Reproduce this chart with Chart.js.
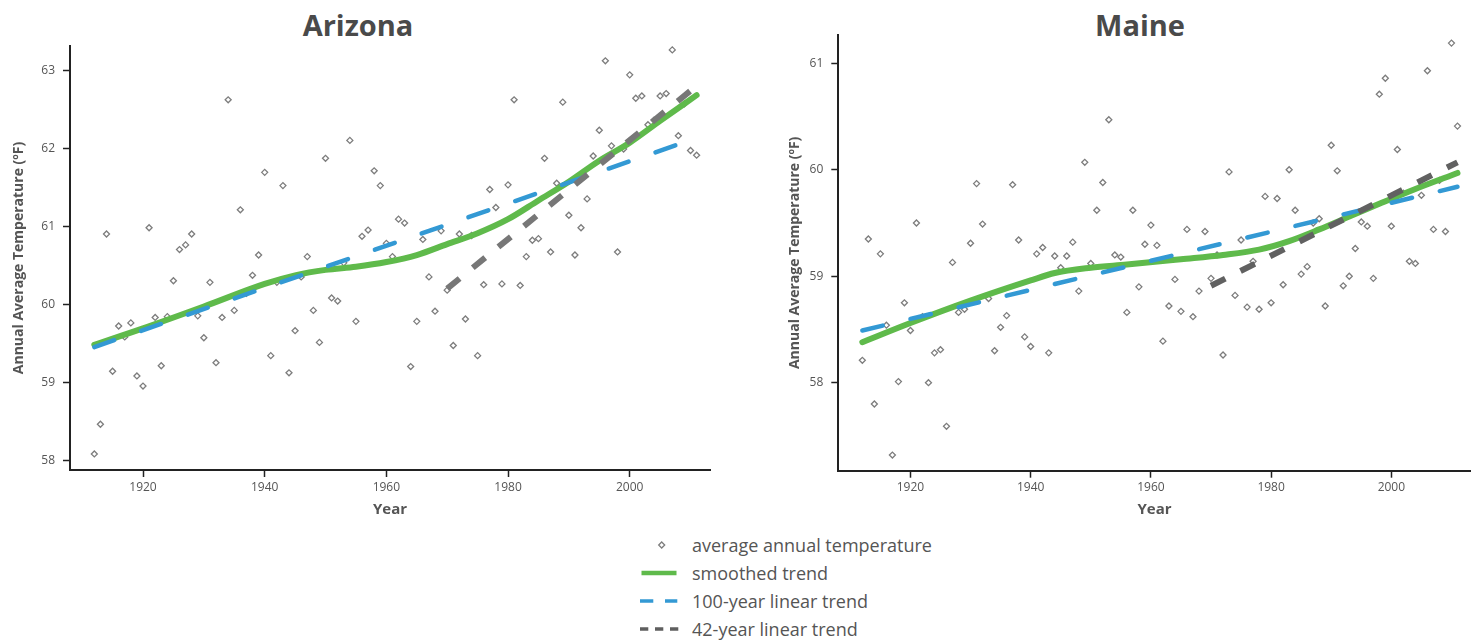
<!DOCTYPE html>
<html>
<head>
<meta charset="utf-8">
<script src="https://cdn.jsdelivr.net/npm/chart.js@4/dist/chart.umd.min.js"></script>
<style>
html,body{margin:0;padding:0;background:#fff;}
body{width:1476px;height:641px;overflow:hidden;position:relative;font-family:"Open Sans",sans-serif;}
canvas{position:absolute;top:0;}
#cAz{left:0;}
#cMe{left:776px;}
.title{position:absolute;top:5px;font-weight:700;font-size:29px;color:#4a4a4a;transform:translateX(-50%);white-space:nowrap;line-height:normal;}
.row{position:absolute;left:636px;height:28px;display:flex;align-items:center;}
.row svg{width:50px;height:28px;flex:none;}
.row span{margin-left:6px;font-size:18px;color:#555;line-height:28px;white-space:nowrap;}
</style>
</head>
<body>
<div class="title" style="left:358px;">Arizona</div>
<div class="title" style="left:1140px;">Maine</div>
<canvas id="cAz" width="716" height="530"></canvas>
<canvas id="cMe" width="700" height="530"></canvas>

<div class="row" style="top:531px;">
  <svg viewBox="0 0 50 28"><polygon points="25.7,11 28.7,14 25.7,17 22.7,14" fill="#fff" stroke="#7d7d7d" stroke-width="1.3"/></svg>
  <span>average annual temperature</span>
</div>
<div class="row" style="top:559px;">
  <svg viewBox="0 0 50 28"><line x1="5.5" y1="14" x2="40.5" y2="14" stroke="#5fba4b" stroke-width="4.5"/></svg>
  <span>smoothed trend</span>
</div>
<div class="row" style="top:587px;">
  <svg viewBox="0 0 50 28"><path d="M4 14H17.3M29 14H41.3" stroke="#3399d4" stroke-width="3.5"/></svg>
  <span>100-year linear trend</span>
</div>
<div class="row" style="top:615px;">
  <svg viewBox="0 0 50 28"><path d="M4 14H12.3M19 14H27.3M34 14H42.3" stroke="#5f5f5f" stroke-width="3.5"/></svg>
  <span>42-year linear trend</span>
</div>

<script>
// ---------- data ----------
const firstYear = 1912;

const azTemps = [
  58.09, 58.47, 60.91, 59.15, 59.73, 59.59, 59.77, 59.09, 58.96, 60.99, // 1912-1921
  59.84, 59.22, 59.85, 60.31, 60.71, 60.77, 60.91, 59.86, 59.58, 60.29, // 1922-1931
  59.26, 59.84, 62.63, 59.93, 61.22, 60.15, 60.38, 60.64, 61.70, 59.35, // 1932-1941
  60.29, 61.53, 59.13, 59.67, 60.36, 60.62, 59.93, 59.52, 61.88, 60.09, // 1942-1951
  60.05, 60.54, 62.11, 59.79, 60.88, 60.96, 61.72, 61.53, 60.79, 60.62, // 1952-1961
  61.10, 61.05, 59.21, 59.79, 60.84, 60.36, 59.92, 60.95, 60.19, 59.48, // 1962-1971
  60.91, 59.82, 60.89, 59.35, 60.26, 61.48, 61.25, 60.27, 61.54, 62.63, // 1972-1981
  60.25, 60.62, 60.83, 60.85, 61.88, 60.68, 61.56, 62.60, 61.15, 60.64, // 1982-1991
  60.99, 61.36, 61.91, 62.24, 63.13, 62.04, 60.68, 62.00, 62.95, 62.65, // 1992-2001
  62.68, 62.31, 62.37, 62.68, 62.71, 63.27, 62.17, 62.58, 61.98, 61.92  // 2002-2011
];

const meTemps = [
  58.21, 59.35, 57.80, 59.21, 58.54, 57.32, 58.01, 58.75, 58.49, 59.50, // 1912-1921
  58.62, 58.00, 58.28, 58.31, 57.59, 59.13, 58.66, 58.69, 59.31, 59.87, // 1922-1931
  59.49, 58.79, 58.30, 58.52, 58.63, 59.86, 59.34, 58.43, 58.34, 59.21, // 1932-1941
  59.27, 58.28, 59.19, 59.08, 59.19, 59.32, 58.86, 60.07, 59.12, 59.62, // 1942-1951
  59.88, 60.47, 59.20, 59.18, 58.66, 59.62, 58.90, 59.30, 59.48, 59.29, // 1952-1961
  58.39, 58.72, 58.97, 58.67, 59.44, 58.62, 58.86, 59.42, 58.98, 59.20, // 1962-1971
  58.26, 59.98, 58.82, 59.34, 58.71, 59.14, 58.69, 59.75, 58.75, 59.73, // 1972-1981
  58.92, 60.00, 59.62, 59.02, 59.09, 59.50, 59.54, 58.72, 60.23, 59.99, // 1982-1991
  58.91, 59.00, 59.26, 59.51, 59.47, 58.98, 60.71, 60.86, 59.47, 60.19, // 1992-2001
  59.78, 59.14, 59.12, 59.76, 60.93, 59.44, 59.90, 59.42, 61.19, 60.41  // 2002-2011
];

const azSmoothYears = [1912, 1920, 1930, 1940, 1945, 1950, 1955, 1960, 1965, 1970, 1975, 1980, 1985, 1990, 1995, 2000, 2005, 2011];
const azSmoothVals  = [59.49, 59.70, 59.98, 60.27, 60.38, 60.45, 60.49, 60.55, 60.64, 60.78, 60.92, 61.10, 61.34, 61.58, 61.85, 62.08, 62.36, 62.69];

const meSmoothYears = [1912, 1920, 1930, 1940, 1944, 1950, 1956, 1965, 1972, 1978, 1983, 1988, 1993, 1998, 2004, 2011];
const meSmoothVals  = [58.38, 58.56, 58.77, 58.96, 59.03, 59.08, 59.11, 59.16, 59.20, 59.25, 59.33, 59.44, 59.56, 59.68, 59.82, 59.97];

const az100Years = [1912, 2011];
const az100Vals  = [59.46, 62.14];
const az42Years  = [1970, 2011];
const az42Vals   = [60.21, 62.81];

const me100Years = [1912, 2011];
const me100Vals  = [58.49, 59.84];
const me42Years  = [1970, 2011];
const me42Vals   = [58.91, 60.07];

const xTickVals  = [1920, 1940, 1960, 1980, 2000];
const azYTickVals = [58, 59, 60, 61, 62, 63];
const meYTickVals = [58, 59, 60, 61];

const seriesNames = ['average annual temperature', 'smoothed trend', '100-year linear trend', '42-year linear trend'];

// ---------- chart building ----------
function toPoints(xs, ys) { return xs.map((x, i) => ({ x: x, y: ys[i] })); }
function yearPoints(vals) { return vals.map((v, i) => ({ x: firstYear + i, y: v })); }

const FONT = 'Open Sans';
const TICK_COLOR = '#555';

function buildChart(id, c) {
  new Chart(document.getElementById(id), {
    type: 'scatter',
    data: {
      datasets: [
        { label: seriesNames[3], data: toPoints(c.y42, c.v42), showLine: true,
          borderColor: c.grayColor, borderWidth: 6, borderDash: [16, 17], borderCapStyle: 'butt',
          pointRadius: 0, order: 1 },
        { label: seriesNames[2], data: toPoints(c.y100, c.v100), showLine: true,
          borderColor: '#3399d4', borderWidth: 4.5, borderDash: [21, 28.5], borderCapStyle: 'round',
          pointRadius: 0, order: 2 },
        { label: seriesNames[1], data: toPoints(c.sy, c.sv), showLine: true,
          borderColor: '#5fba4b', borderWidth: 6, cubicInterpolationMode: 'monotone', borderCapStyle: 'round',
          pointRadius: 0, order: 3 },
        { label: seriesNames[0], data: yearPoints(c.temps), showLine: false,
          pointStyle: 'rectRot', pointRadius: 3, pointBorderWidth: 1.3,
          borderColor: '#7d7d7d', backgroundColor: '#ffffff',
          pointBorderColor: '#7d7d7d', pointBackgroundColor: '#ffffff', order: 4 }
      ]
    },
    options: {
      responsive: false,
      animation: false,
      events: [],
      layout: { padding: { top: c.padTop, right: c.padRight, left: 0, bottom: 0 } },
      plugins: { legend: { display: false }, tooltip: { enabled: false }, title: { display: false } },
      scales: {
        x: {
          type: 'linear', min: 1908, max: 2013.2,
          afterBuildTicks: s => { s.ticks = xTickVals.map(v => ({ value: v })); },
          afterFit: s => { s.height = c.xHeight; },
          grid: { display: true, drawOnChartArea: false, drawTicks: true, tickLength: 7, tickColor: '#222', tickWidth: 1.5 },
          border: { display: true, color: '#222', width: 2 },
          ticks: { font: { family: FONT, size: 12 }, color: TICK_COLOR, padding: 3, maxRotation: 0, autoSkip: false,
                   callback: v => String(v) },
          title: { display: true, text: 'Year', font: { family: FONT, size: 15, weight: 'bold' }, color: '#555',
                   padding: { top: 0, bottom: 11.5 } }
        },
        y: {
          type: 'linear', min: c.yMin, max: c.yMax,
          afterBuildTicks: s => { s.ticks = c.yTicks.map(v => ({ value: v })); },
          afterFit: s => { s.width = c.yWidth; },
          grid: { display: true, drawOnChartArea: false, drawTicks: true, tickLength: 7, tickColor: '#222', tickWidth: 1.5 },
          border: { display: true, color: '#222', width: 2 },
          ticks: { font: { family: FONT, size: 12 }, color: TICK_COLOR, padding: 8, autoSkip: false,
                   callback: v => String(v) },
          title: { display: true, text: 'Annual Average Temperature (ºF)', font: { family: FONT, size: 14, weight: 'bold' },
                   color: '#555', padding: { top: 10.6, bottom: 0 } }
        }
      }
    }
  });
}

buildChart('cAz', {
  temps: azTemps, sy: azSmoothYears, sv: azSmoothVals,
  y100: az100Years, v100: az100Vals, y42: az42Years, v42: az42Vals,
  yMin: 57.884, yMax: 63.32, yTicks: azYTickVals, grayColor: '#777777',
  padTop: 46, padRight: 6, yWidth: 70, xHeight: 60
});
buildChart('cMe', {
  temps: meTemps, sy: meSmoothYears, sv: meSmoothVals,
  y100: me100Years, v100: me100Vals, y42: me42Years, v42: me42Vals,
  yMin: 57.173, yMax: 61.266, yTicks: meYTickVals, grayColor: '#616161',
  padTop: 35, padRight: 0, yWidth: 62.3, xHeight: 59.3
});
</script>
</body>
</html>
